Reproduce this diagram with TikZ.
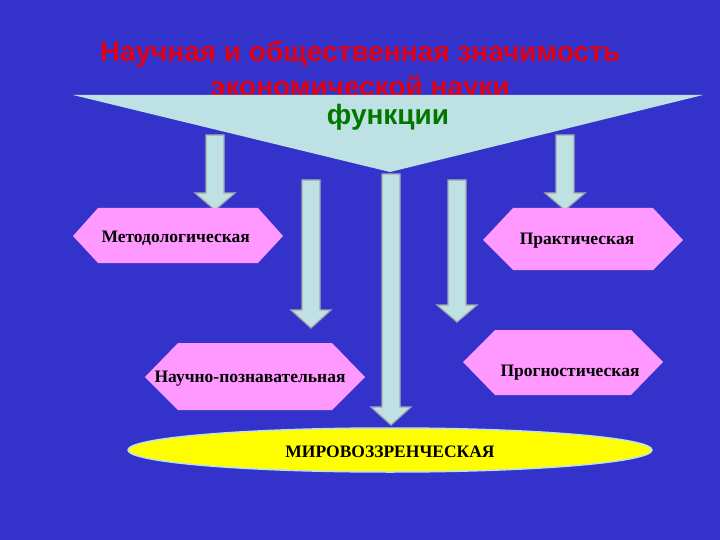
\documentclass[tikz,border=0pt]{standalone}
\usepackage{fontspec}
\setmainfont{Liberation Serif}
\newfontfamily\sansf{Liberation Sans}
\usetikzlibrary{shapes.geometric}
\definecolor{bg}{RGB}{51,51,204}
\definecolor{lb}{RGB}{190,225,228}
\definecolor{pk}{RGB}{255,153,255}
\definecolor{tr}{RGB}{225,0,20}
\definecolor{gr}{RGB}{0,120,0}
\definecolor{yl}{RGB}{255,255,0}
\tikzset{arr/.style={fill=lb,draw=gray!70,line width=1.2pt},
 hex/.style={fill=pk,draw=none},
 lbl/.style={font=\fontsize{17.5}{20}\selectfont\bfseries,text=black}}
\begin{document}
\begin{tikzpicture}[x=1pt,y=-1pt]
\fill[bg] (0,0) rectangle (720,540);
\useasboundingbox (0,0) rectangle (720,540);
\node[font=\sansf\bfseries\fontsize{28}{35}\selectfont,text=tr,align=center] (title) at (360,72) {Научная и общественная значимость\\экономической науки};
\fill[lb] (73,95) -- (703,95) -- (390,172) -- cycle;
\node[font=\sansf\bfseries\fontsize{28}{32}\selectfont,text=gr] (fn) at (388,117) {функции};
% arrows
\newcommand{\varrow}[4]{\draw[arr] (#1-9,#2) -- (#1+9,#2) -- (#1+9,#3) -- (#1+20,#3) -- (#1,#4) -- (#1-20,#3) -- (#1-9,#3) -- cycle;}
\varrow{215}{135}{193}{210}
\varrow{311}{180}{310}{328}
\varrow{391}{174}{407}{425}
\varrow{457}{180}{305}{322}
\varrow{565}{135}{193}{210}
% hexagons
\fill[hex] (73,236) -- (98,208) -- (258,208) -- (283,236) -- (258,263) -- (98,263) -- cycle;
\node[lbl,anchor=west] (m) at (98,238) {Методологическая};
\fill[hex] (483,240) -- (513,208) -- (653,208) -- (683,240) -- (653,270) -- (513,270) -- cycle;
\node[lbl] (p) at (577,241) {Практическая};
\fill[hex] (145,377) -- (178,343) -- (332,343) -- (365,377) -- (332,410) -- (178,410) -- cycle;
\node[lbl] (n) at (250,379) {Научно-познавательная};
\fill[hex] (463,362) -- (495,330) -- (631,330) -- (663,362) -- (631,395) -- (495,395) -- cycle;
\node[lbl] (g) at (570,373) {Прогностическая};
\node[ellipse,fill=yl,draw=lb,line width=1.5pt,minimum width=524pt,minimum height=44pt] (e) at (390,450) {};
\node[lbl] (mt) at (390,452) {МИРОВОЗЗРЕНЧЕСКАЯ};
\end{tikzpicture}
\end{document}
